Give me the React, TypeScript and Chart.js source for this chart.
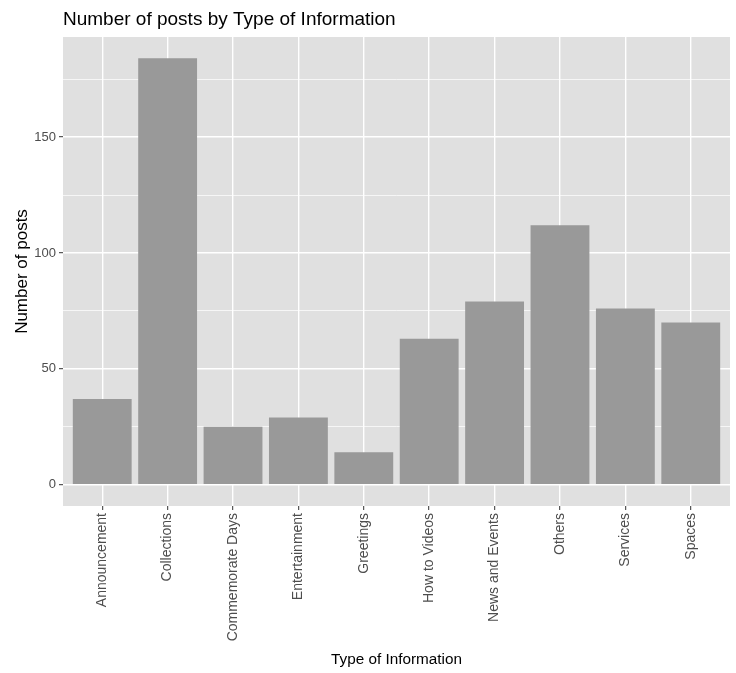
import React, { useEffect, useRef } from "react";
import { Chart, registerables } from "chart.js";

Chart.register(...registerables);

const categories = [
  "Announcement",
  "Collections",
  "Commemorate Days",
  "Entertainment",
  "Greetings",
  "How to Videos",
  "News and Events",
  "Others",
  "Services",
  "Spaces",
];
const postCounts = [37, 184, 25, 29, 14, 63, 79, 112, 76, 70];
const yTickValues = [0, 25, 50, 75, 100, 125, 150, 175];
const yLabelStep = 50;

const panelBg = {
  id: "panelBg",
  beforeDraw(chart: any) {
    const { ctx, chartArea } = chart;
    ctx.save();
    ctx.fillStyle = "#E0E0E0";
    ctx.fillRect(chartArea.left, chartArea.top, chartArea.right - chartArea.left, chartArea.bottom - chartArea.top);
    ctx.restore();
  },
};

export default function App() {
  const ref = useRef<HTMLCanvasElement>(null);
  useEffect(() => {
    if (!ref.current) return;
    Chart.defaults.font.family = "'Liberation Sans', Arial, sans-serif";
    const maxV = Math.max(...postCounts);
    const pad = maxV * 0.05;
    const chart = new Chart(ref.current, {
      type: "bar",
      data: {
        datasets: [
          {
            data: categories.map((c, i) => ({ x: i, y: postCounts[i] })) as any,
            backgroundColor: "#999999",
            borderWidth: 0,
            barPercentage: 0.9,
            categoryPercentage: 1,
          },
        ],
      },
      plugins: [panelBg],
      options: {
        animation: false,
        responsive: false,
        layout: { padding: { left: 0, top: 0, right: 6, bottom: 0 } },
        plugins: {
          legend: { display: false },
          tooltip: { enabled: false },
          title: {
            display: true,
            text: "Number of posts by Type of Information",
            align: "start",
            fullSize: false,
            color: "#000000",
            font: { size: 19, weight: "normal" as any, lineHeight: 1.2 },
            padding: { top: 8, bottom: 6.2 },
          },
        },
        scales: {
          x: {
            type: "linear",
            min: -0.6,
            max: categories.length - 1 + 0.6,
            offset: false,
            afterBuildTicks: (scale: any) => {
              scale.ticks = categories.map((_, i) => ({ value: i }));
            },
            afterFit: (scale: any) => {
              scale.height = 167;
            },
            ticks: {
              autoSkip: false,
              minRotation: 90,
              maxRotation: 90,
              padding: 3,
              color: "#4D4D4D",
              font: { size: 14 },
              callback: (v: any) => categories[Math.round(Number(v))] ?? "",
            },
            grid: {
              offset: false,
              color: "#FFFFFF",
              lineWidth: 1.4,
              drawTicks: true,
              tickLength: 4,
              tickColor: "#333333",
              tickWidth: 1,
            },
            border: { display: false },
            title: {
              display: true,
              text: "Type of Information",
              color: "#000000",
              font: { size: 15.3, lineHeight: 1.2 },
              padding: { top: 0, bottom: 4 },
            },
          },
          y: {
            type: "linear",
            min: -pad,
            max: maxV + pad,
            afterBuildTicks: (scale: any) => {
              scale.ticks = yTickValues.map((v) => ({ value: v }));
            },
            afterFit: (scale: any) => {
              scale.width = 63;
            },
            ticks: {
              padding: 3,
              color: "#4D4D4D",
              font: { size: 13 },
              callback: (v: any) => (Number(v) % yLabelStep === 0 ? String(v) : ""),
            },
            grid: {
              color: "#FFFFFF",
              lineWidth: (c: any) => (c.tick && c.tick.value % yLabelStep === 0 ? 1.4 : 0.7),
              drawTicks: true,
              tickLength: 4,
              tickColor: (c: any) => (c.tick && c.tick.value % yLabelStep === 0 ? "#333333" : "rgba(0,0,0,0)"),
              tickWidth: 1,
            },
            border: { display: false },
            title: {
              display: true,
              text: "Number of posts",
              color: "#000000",
              font: { size: 17, lineHeight: 1.2 },
              padding: { top: 12, bottom: 0 },
            },
          },
        },
      },
    } as any);
    return () => chart.destroy();
  }, []);
  return (
    <div style={{ position: "fixed", left: 0, top: 0, width: 736, height: 673, background: "#FFFFFF" }}>
      <canvas ref={ref} width={736} height={673} style={{ display: "block" }} />
    </div>
  );
}
